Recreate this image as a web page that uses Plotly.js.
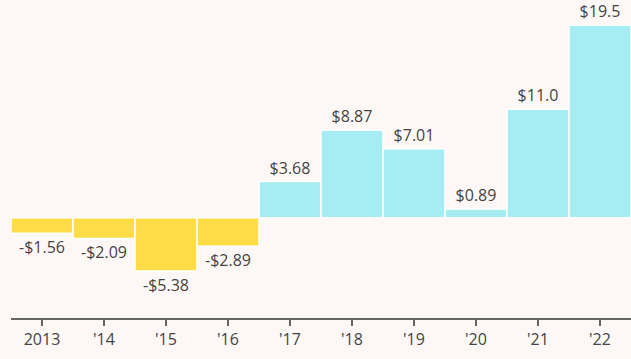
<!DOCTYPE html>
<html><head><meta charset="utf-8">
<script src="https://cdn.plot.ly/plotly-3.0.1.min.js"></script>
<style>html,body{margin:0;padding:0;background:#fdf8f6;}</style>
</head><body><div id="chart" style="width:631px;height:359px;"></div>
<script>
const categories = ["2013", "'14", "'15", "'16", "'17", "'18", "'19", "'20", "'21", "'22"];
const values = [-1.56, -2.09, -5.38, -2.89, 3.68, 8.87, 7.01, 0.89, 11.0, 19.5];
const labels = ["-$1.56", "-$2.09", "-$5.38", "-$2.89", "$3.68", "$8.87", "$7.01", "$0.89", "$11.0", "$19.5"];
const colors = values.map(v => v < 0 ? '#fddc48' : '#a6ecf3');

Plotly.newPlot('chart', [{
  type: 'bar', x: categories, y: values, text: labels,
  textposition: 'outside', cliponaxis: false,
  textfont: {family: 'Open Sans', size: 16, color: '#444'},
  marker: {color: colors, line: {color: '#ffffff', width: 1.5}},
  hoverinfo: 'none'
}], {
  width: 631, height: 359,
  margin: {l: 11, r: 0, t: 0, b: 41},
  paper_bgcolor: '#fdf8f6', plot_bgcolor: '#fdf8f6',
  bargap: 0,
  showlegend: false,
  font: {family: 'Open Sans', color: '#444'},
  xaxis: {type: 'category', range: [-0.5, 9.5], showline: true, linecolor: '#666', linewidth: 2,
          ticks: 'outside', ticklen: 6, tickwidth: 2, tickcolor: '#666',
          tickfont: {family: 'Open Sans', size: 16, color: '#444'}, showgrid: false, zeroline: false},
  yaxis: {range: [-10.15, 22.07], visible: false, showgrid: false, zeroline: false}
}, {displayModeBar: false, staticPlot: true});
</script></body></html>
